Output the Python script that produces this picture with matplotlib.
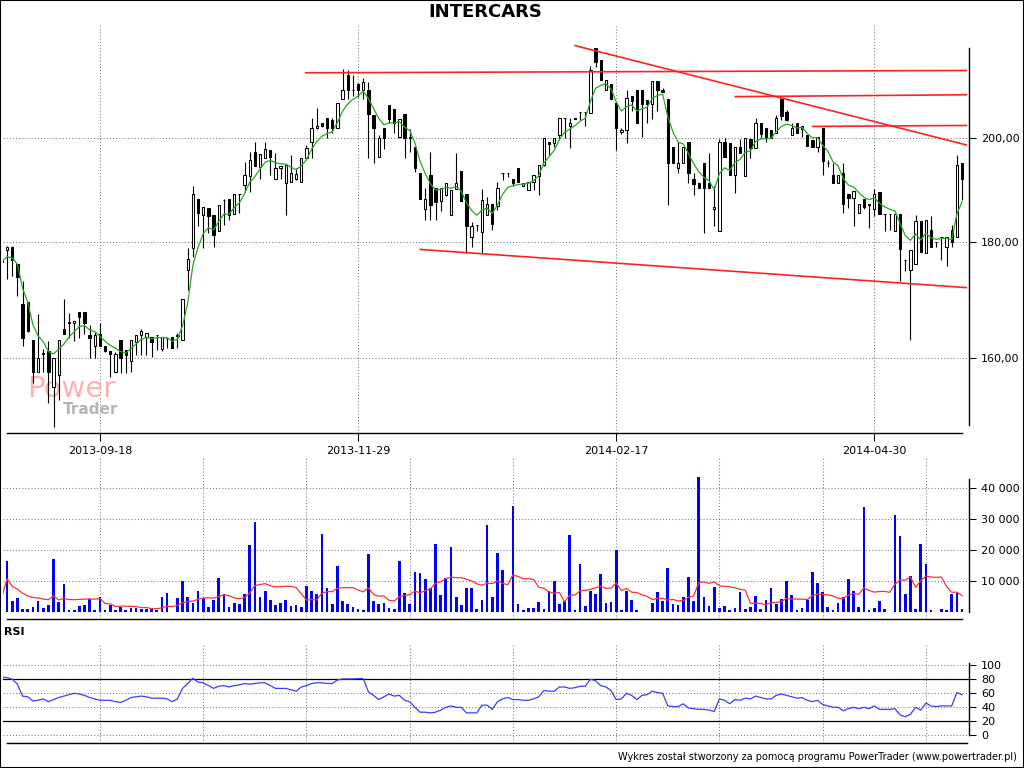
import numpy as np
import pandas as pd
import matplotlib
matplotlib.use('Agg')
import matplotlib.pyplot as plt
from matplotlib.patches import Rectangle
from matplotlib.ticker import FixedLocator, NullLocator, FuncFormatter

plt.rcParams['font.family'] = ['DejaVu Sans']

# ---------------- data ----------------
opens = [176.8, 178.6, 179.1, 176.0, 169.0, 169.5, 163.0, 157.9, 160.9, 161.2,
         155.5, 157.4, 164.8, 166.0, 165.9, 167.7, 167.7, 163.8, 162.0, 164.1,
         162.1, 161.2, 157.9, 163.0, 161.4, 159.6, 162.7, 163.9, 163.5, 163.5,
         163.8, 161.5, 163.4, 163.5, 163.7, 163.0, 175.0, 178.9, 188.1, 185.1,
         186.3, 185.1, 182.0, 187.9, 188.1, 185.3, 189.0, 190.7, 192.4, 197.2,
         194.3, 196.1, 197.7, 192.0, 194.1, 191.1, 191.4, 192.0, 191.4, 196.0,
         199.2, 202.0, 203.1, 204.1, 203.8, 202.0, 208.1, 213.2, 210.1, 211.3,
         210.1, 210.1, 204.8, 196.2, 202.0, 206.9, 206.1, 200.2, 205.0, 200.0,
         198.2, 193.0, 186.1, 192.7, 190.1, 187.7, 188.9, 185.1, 189.9, 193.5,
         189.0, 181.0, 183.1, 181.8, 185.0, 187.1, 186.8, 193.0, 193.0, 192.0,
         194.1, 190.6, 189.7, 191.4, 192.4, 194.7, 199.2, 199.0, 200.7, 204.1,
         202.5, 204.1, 205.3, 205.3, 205.2, 219.1, 216.4, 210.1, 211.3, 207.2,
         201.2, 201.7, 208.8, 210.0, 210.0, 207.8, 207.0, 212.0, 210.1, 208.1,
         198.2, 194.0, 195.0, 199.2, 192.0, 191.1, 195.0, 191.1, 186.1, 182.0,
         199.2, 199.0, 192.6, 198.2, 192.4, 199.8, 198.0, 203.1, 202.0, 201.6,
         201.0, 208.2, 205.3, 200.7, 203.1, 201.8, 200.7, 199.7, 198.2, 202.0,
         195.0, 192.7, 191.1, 193.1, 189.0, 188.2, 185.5, 188.0, 187.1, 186.1,
         189.3, 185.2, 185.2, 182.1, 185.2, 176.8, 175.0, 176.1, 183.9, 178.1,
         182.3, 180.1, 180.9, 179.1, 182.2, 181.0, 195.0]
highs = [178.0, 179.3, 179.3, 176.0, 173.0, 169.5, 163.0, 167.4, 161.5, 162.8,
         160.0, 163.0, 170.0, 167.5, 166.2, 167.7, 167.7, 165.5, 164.4, 165.9,
         162.1, 161.2, 161.0, 163.0, 161.4, 163.0, 163.9, 164.8, 164.2, 163.5,
         163.8, 163.5, 163.4, 163.5, 164.2, 169.9, 178.9, 190.5, 188.1, 186.6,
         186.3, 185.1, 187.0, 188.1, 188.1, 189.0, 189.0, 195.3, 197.3, 199.3,
         196.8, 199.2, 197.7, 197.0, 194.5, 194.7, 196.6, 194.0, 196.0, 198.7,
         204.1, 206.2, 203.1, 204.1, 204.1, 207.2, 214.6, 214.2, 213.2, 211.5,
         212.5, 211.8, 204.8, 200.7, 202.0, 206.9, 206.1, 203.9, 205.0, 201.8,
         198.2, 193.0, 190.1, 197.3, 190.1, 190.1, 191.1, 189.8, 197.0, 193.5,
         189.0, 183.8, 183.2, 189.9, 188.5, 187.1, 191.4, 193.0, 193.0, 192.0,
         194.1, 191.1, 191.4, 192.6, 194.6, 200.0, 199.2, 200.0, 204.1, 204.1,
         204.1, 204.1, 205.3, 205.3, 215.2, 219.1, 216.4, 212.1, 211.3, 207.2,
         202.0, 210.1, 208.8, 210.0, 210.0, 207.8, 212.0, 212.0, 210.5, 208.1,
         198.2, 199.3, 198.2, 199.2, 193.0, 191.1, 195.0, 197.0, 190.5, 199.9,
         200.0, 199.0, 198.2, 199.8, 200.0, 199.8, 204.1, 203.1, 202.0, 201.6,
         204.8, 208.2, 205.8, 203.1, 203.1, 202.5, 200.7, 199.7, 200.3, 202.0,
         195.7, 195.0, 192.7, 195.0, 189.0, 189.6, 187.1, 188.0, 187.1, 189.9,
         189.3, 185.2, 185.2, 185.2, 185.2, 176.8, 178.6, 185.1, 183.9, 184.1,
         184.9, 180.1, 180.9, 180.9, 183.1, 196.7, 195.0]
lows = [175.0, 173.4, 174.0, 170.4, 162.1, 164.3, 156.0, 157.9, 157.9, 152.9,
        149.3, 153.4, 164.0, 163.3, 162.8, 163.4, 164.0, 160.0, 160.0, 162.0,
        161.0, 157.1, 157.9, 157.6, 157.6, 157.9, 160.5, 160.5, 160.5, 160.3,
        161.4, 161.3, 161.7, 161.7, 161.7, 163.0, 171.5, 177.4, 182.9, 178.9,
        181.7, 179.2, 182.0, 183.2, 184.1, 185.3, 185.4, 189.4, 189.3, 194.5,
        192.0, 196.1, 192.7, 192.0, 192.0, 185.1, 191.4, 191.7, 191.4, 196.0,
        196.0, 201.8, 202.3, 200.0, 201.0, 202.0, 208.1, 208.1, 208.8, 208.6,
        208.1, 196.0, 195.1, 196.2, 197.8, 203.1, 201.0, 200.0, 196.0, 197.3,
        193.2, 188.0, 184.1, 184.1, 184.1, 185.7, 188.7, 185.1, 189.9, 187.6,
        178.0, 179.2, 182.0, 178.0, 185.0, 182.3, 186.0, 191.7, 192.2, 190.5,
        191.4, 190.6, 189.7, 189.8, 188.8, 194.5, 196.7, 198.3, 199.7, 200.0,
        198.1, 203.9, 203.8, 202.4, 205.2, 214.9, 212.1, 210.0, 208.1, 197.7,
        200.8, 199.1, 205.5, 203.1, 200.3, 203.1, 204.0, 205.5, 209.6, 186.9,
        195.0, 193.0, 195.0, 191.1, 188.9, 190.1, 181.7, 190.1, 182.9, 182.0,
        196.3, 192.6, 189.2, 197.0, 192.4, 196.0, 198.0, 200.0, 199.3, 200.0,
        201.0, 203.8, 203.6, 200.7, 201.0, 200.3, 198.5, 198.3, 197.3, 192.6,
        194.2, 191.1, 191.1, 185.5, 186.3, 183.0, 185.5, 186.2, 182.6, 184.9,
        185.2, 182.0, 182.2, 182.1, 173.0, 174.9, 163.0, 176.1, 178.2, 178.0,
        179.1, 179.2, 176.8, 175.7, 179.2, 181.0, 187.9]
closes = [176.5, 179.1, 176.8, 173.8, 163.4, 164.6, 157.9, 160.0, 160.8, 157.9,
          160.0, 163.0, 164.0, 165.9, 166.2, 166.9, 165.8, 163.3, 163.8, 162.0,
          161.2, 160.8, 160.8, 160.0, 160.5, 163.0, 163.9, 164.6, 164.2, 162.7,
          163.8, 163.5, 163.3, 161.7, 163.8, 169.9, 177.0, 189.1, 185.4, 186.6,
          184.9, 181.4, 187.0, 187.9, 185.1, 189.0, 189.0, 192.6, 195.7, 194.5,
          196.8, 197.9, 196.3, 194.1, 194.5, 194.7, 193.0, 192.8, 196.0, 198.0,
          202.0, 202.5, 202.5, 202.0, 202.0, 207.2, 210.1, 210.1, 210.0, 210.1,
          211.8, 205.0, 202.0, 200.0, 200.0, 203.9, 203.1, 203.9, 200.0, 200.3,
          194.0, 188.1, 188.1, 187.0, 187.4, 190.1, 191.1, 189.8, 191.1, 187.6,
          183.0, 183.0, 183.2, 187.9, 187.1, 183.3, 190.1, 193.0, 193.0, 191.1,
          191.4, 191.1, 191.4, 192.6, 194.6, 200.0, 198.8, 200.0, 204.1, 204.1,
          203.1, 204.0, 205.3, 205.3, 214.4, 216.1, 212.1, 212.1, 208.1, 202.0,
          201.7, 208.3, 207.6, 203.1, 207.0, 207.0, 212.0, 210.1, 209.6, 195.0,
          195.0, 195.0, 198.2, 193.0, 191.0, 190.1, 190.1, 190.1, 186.5, 199.2,
          196.3, 192.6, 198.2, 197.0, 200.0, 198.0, 203.1, 200.9, 200.0, 200.0,
          204.1, 204.6, 203.8, 202.0, 201.0, 202.5, 198.5, 198.3, 200.2, 195.5,
          195.0, 191.1, 192.7, 187.1, 188.2, 189.6, 187.1, 186.6, 187.0, 189.0,
          185.2, 185.2, 185.2, 185.2, 178.7, 176.8, 178.6, 183.9, 178.2, 184.1,
          179.1, 180.0, 180.9, 180.9, 180.0, 194.7, 192.0]
volumes = [5000, 16630, 3590, 4670, 980, 980, 1630, 3590, 1300, 2280,
           17280, 3260, 9130, 650, 650, 1960, 2280, 4240, 650, 4890,
           650, 2280, 650, 1630, 650, 1410, 1410, 980, 980, 980,
           650, 4890, 6200, 0, 4670, 10110, 4890, 2930, 6850, 4670,
           1630, 3910, 11090, 5870, 1630, 2930, 2610, 5870, 21850, 29020,
           4890, 6850, 3910, 2280, 2930, 3910, 1960, 2280, 1630, 8480,
           6850, 5870, 25110, 7830, 2610, 15000, 3590, 2610, 1630, 980,
           650, 18910, 3590, 2610, 2930, 1300, 980, 16630, 6200, 2610,
           13040, 12720, 10760, 7830, 22170, 5540, 11090, 21200, 4890, 2280,
           7830, 7830, 980, 3910, 28050, 4890, 19240, 13700, 0, 34350,
           2610, 650, 1300, 1300, 3260, 980, 6850, 10110, 2610, 3590,
           24780, 650, 15650, 1960, 6850, 5870, 12390, 2930, 3260, 20220,
           650, 6850, 3910, 650, 0, 0, 2930, 6520, 3590, 14350,
           2610, 2280, 4890, 11410, 3590, 43700, 4890, 1960, 8150, 1300,
           1960, 650, 1300, 6520, 980, 1630, 5220, 980, 3910, 7830,
           2610, 4240, 10110, 5540, 650, 1300, 3910, 13040, 9460, 6520,
           1630, 650, 2930, 4890, 10760, 6850, 1630, 33910, 650, 1300,
           3590, 980, 0, 31300, 24460, 5870, 11740, 980, 22170, 15650,
           650, 0, 980, 650, 5870, 6200, 980]
rsi = [83, 82.5, 80, 73, 56, 55, 49, 50, 52, 48,
       51, 54, 56, 58, 60, 59, 57, 54, 52, 50,
       50, 50, 48, 47, 50, 54, 55, 56, 55, 53,
       53, 53, 52, 48, 52, 67, 74, 81.5, 76, 75,
       71, 67, 70, 71, 69, 71, 72, 74, 73, 74,
       75, 75, 71, 67, 67, 67, 65, 63, 69, 71,
       74, 75, 75, 74, 74, 79, 80.5, 80.5, 80.5, 81,
       81, 62, 57, 51, 55, 59, 56, 57, 50, 48,
       40, 33, 33, 32, 33, 36, 40, 42, 40, 40,
       32, 32, 32, 43, 43, 37, 48, 52, 54, 51,
       51, 50, 50, 52, 55, 64, 63, 63, 69, 69,
       67, 68, 70, 70, 80, 78, 71, 69, 64, 51,
       52, 60, 57, 51, 57, 58, 63, 61, 60, 42,
       41, 41, 45, 39, 38, 37, 37, 36, 34, 52,
       50, 45, 51, 50, 53, 52, 56, 54, 52, 52,
       57, 59, 57, 55, 53, 54, 50, 48, 50, 44,
       42, 40, 40, 35, 38, 40, 38, 40, 38, 42,
       37, 37, 37, 38, 29, 26.5, 30, 40, 36, 46,
       42, 41, 42, 42, 42, 61, 58]

date_labels = ['2013-09-18', '2013-11-29', '2014-02-17', '2014-04-30']
date_idx = [19, 69, 119, 169]
sub_grid_idx = list(range(19, 187, 20))
price_ticks = [160, 180, 200]
vol_ticks = [10000, 20000, 30000, 40000]
rsi_ticks = [0, 20, 40, 60, 80, 100]
rsi_levels = [20, 80]
# trend lines: (start index, start price, end index, end price)
trend_lines = [(58.7, 213.7, 187.0, 214.2),
               (110.9, 219.7, 187.0, 198.6),
               (141.9, 208.6, 187.0, 209.0),
               (156.9, 202.4, 187.0, 202.6),
               (80.9, 178.7, 187.0, 171.9)]

# ---------------- figure ----------------
W, H = 1024, 768
fig = plt.figure(figsize=(W / 100, H / 100), dpi=100)
fig.patch.set_facecolor('white')


def box(left, top, right, bottom):
    return [left / W, 1 - bottom / H, (right - left) / W, (bottom - top) / H]


ax_p = fig.add_axes(box(3, 25, 968.5, 433))
ax_v = fig.add_axes(box(3, 457.3, 968.5, 619))
ax_r = fig.add_axes(box(3, 645, 968.5, 742.7))

O = np.array(opens); Hh = np.array(highs); L = np.array(lows); C = np.array(closes)
N = len(C)
x = np.arange(N)
xlim = (0.213, 187.25)
grid_kw = dict(color='#7a7a7a', linestyle=(0, (1, 2)), linewidth=0.75)

for ax in (ax_p, ax_v, ax_r):
    ax.set_xlim(*xlim)
    ax.set_facecolor('white')
    ax.spines['left'].set_visible(False)
    ax.spines['top'].set_visible(False)
    for s in ('right', 'bottom'):
        ax.spines[s].set_linewidth(1.0)
    ax.yaxis.tick_right()
    ax.tick_params(axis='y', which='major', direction='out', length=5, width=0.75,
                   labelsize=8, pad=4)
    ax.set_axisbelow(True)

# ---- price panel ----
ax_p.set_yscale('log')
ax_p.set_ylim(148.37, 224.3)
ax_p.vlines(x, L, Hh, color='black', linewidth=0.8, zorder=2)
colors = ['white' if c >= o else 'black' for o, c in zip(O, C)]
ax_p.bar(x, np.abs(C - O), bottom=np.minimum(O, C), width=0.45, color=colors,
         edgecolor='black', linewidth=0.75, zorder=3)
ema = pd.Series(C).ewm(span=5, adjust=False).mean()
ax_p.plot(x, ema, color='#22aa22', linewidth=0.9, zorder=4)
for x0, p0, x1, p1 in trend_lines:
    ax_p.plot([x0, x1], [p0, p1], color='#ff2020', linewidth=1.2, zorder=5,
              solid_capstyle='butt')
ax_p.yaxis.set_major_locator(FixedLocator(price_ticks))
ax_p.yaxis.set_minor_locator(NullLocator())
ax_p.yaxis.set_major_formatter(FuncFormatter(lambda v, p: f"{v:.2f}".replace('.', ',')))
ax_p.set_xticks(date_idx)
ax_p.set_xticklabels(date_labels)
ax_p.tick_params(axis='x', direction='out', length=6, width=0.75, labelsize=8, pad=3)
ax_p.grid(True, **grid_kw)
ax_p.spines['right'].set_bounds(149.6, 219.2)
ax_p.spines['bottom'].set_bounds(1, 186)

# watermark
ax_p.text(27 / W, 1 - 397 / H, 'Power', transform=fig.transFigure, fontsize=21,
          color='#ffb0b0', ha='left', va='baseline', zorder=1)
ax_p.text(63 / W, 1 - 414 / H, 'Trader', transform=fig.transFigure, fontsize=11,
          fontweight='bold', color='#b5b5b5', ha='left', va='baseline', zorder=1)

# ---- volume panel ----
ax_v.set_ylim(-2160, 50000)
ax_v.bar(x, volumes, width=0.52, color='#0000ff', zorder=3)
vma = pd.Series(volumes, dtype=float).rolling(10, min_periods=1).mean()
ax_v.plot(x, vma, color='#ff3030', linewidth=0.9, zorder=4)
ax_v.yaxis.set_major_locator(FixedLocator(vol_ticks))
ax_v.yaxis.set_major_formatter(FuncFormatter(lambda v, p: f"{int(v):,}".replace(',', ' ')))
ax_v.set_xticks(sub_grid_idx)
ax_v.tick_params(axis='x', length=0, labelbottom=False)
ax_v.grid(True, **grid_kw)
ax_v.spines['right'].set_bounds(0, 43000)
ax_v.spines['bottom'].set_bounds(1, 186)

# ---- RSI panel ----
ax_r.set_ylim(-10.6, 129)
ax_r.plot(x, rsi, color='#3c3cff', linewidth=0.9, zorder=4)
for lv in rsi_levels:
    ax_r.axhline(lv, color='black', linewidth=0.9, zorder=3)
ax_r.yaxis.set_major_locator(FixedLocator(rsi_ticks))
ax_r.set_xticks(sub_grid_idx)
ax_r.tick_params(axis='x', length=0, labelbottom=False)
ax_r.grid(True, **grid_kw)
ax_r.spines['right'].set_bounds(0, 103.7)
ax_r.spines['bottom'].set_bounds(1, 187)

# ---- texts ----
fig.text(485.5 / W, 1 - 12 / H, 'INTERCARS', ha='center', va='center',
         fontsize=13, fontweight='bold')
fig.text(4 / W, 1 - 632 / H, 'RSI', ha='left', va='center', fontsize=8,
         fontweight='bold')
fig.text(1017 / W, 1 - 757 / H,
         'Wykres został stworzony za pomocą programu PowerTrader (www.powertrader.pl)',
         ha='right', va='center', fontsize=7)

fig.add_artist(Rectangle((0, 0), 1, 1, transform=fig.transFigure, fill=False,
                         edgecolor='black', linewidth=1.5))

fig.savefig('out.png', dpi=100)
